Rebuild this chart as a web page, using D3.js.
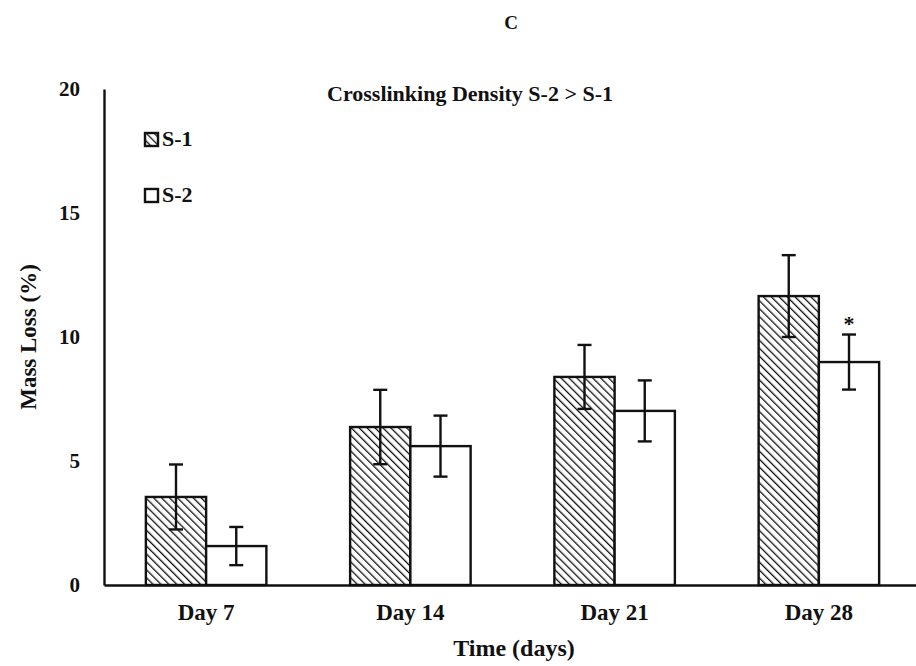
<!DOCTYPE html>
<html>
<head>
<meta charset="utf-8">
<script src="https://cdn.jsdelivr.net/npm/d3@7"></script>
<style>
  html, body { margin: 0; padding: 0; background: #fff; }
  svg { display: block; }
  text { font-family: "Liberation Serif", "Times New Roman", serif; font-weight: bold; fill: #111; }
</style>
</head>
<body>
<div id="chart"></div>
<script>
// Mass loss of the two formulations over time
const days = ["Day 7", "Day 14", "Day 21", "Day 28"];
const seriesNames = ["S-1", "S-2"];
const s1Mean = [3.55, 6.37, 8.39, 11.65];
const s1Err  = [1.31, 1.50, 1.29, 1.65];
const s2Mean = [1.57, 5.60, 7.02, 8.99];
const s2Err  = [0.77, 1.23, 1.23, 1.11];
const yTicks = [0, 5, 10, 15, 20];
const significant = [false, false, false, true]; // S-2 marked with *

const W = 916, H = 666;
const margin = { left: 104, right: -5, top: 89, bottom: 81 };
const ink = "#111";

const svg = d3.select("#chart").append("svg")
  .attr("width", W).attr("height", H);

// diagonal hatching for S-1
const defs = svg.append("defs");
const pat = defs.append("pattern")
  .attr("id", "hatch")
  .attr("patternUnits", "userSpaceOnUse")
  .attr("width", 5.6).attr("height", 5.6)
  .attr("patternTransform", "rotate(-45)");
pat.append("rect").attr("width", 5.6).attr("height", 5.6).attr("fill", "#fff");
pat.append("line")
  .attr("x1", 0).attr("y1", 0).attr("x2", 0).attr("y2", 5.6)
  .attr("stroke", ink).attr("stroke-width", 2.6);

const x = d3.scaleBand()
  .domain(days)
  .range([margin.left, W - margin.right])
  .paddingInner(0.41).paddingOuter(0.205);
const xs = d3.scaleBand().domain(seriesNames).range([0, x.bandwidth()]);
const y = d3.scaleLinear().domain([0, 20]).range([H - margin.bottom, margin.top]);

const data = days.map((d, i) => ({
  day: d,
  vals: [
    { s: "S-1", v: s1Mean[i], e: s1Err[i], star: false },
    { s: "S-2", v: s2Mean[i], e: s2Err[i], star: significant[i] }
  ]
}));

const groups = svg.append("g").selectAll("g")
  .data(data).join("g")
  .attr("transform", d => `translate(${x(d.day)},0)`);

groups.selectAll("rect")
  .data(d => d.vals).join("rect")
  .attr("x", d => xs(d.s))
  .attr("y", d => y(d.v))
  .attr("width", xs.bandwidth())
  .attr("height", d => y(0) - y(d.v))
  .attr("fill", d => d.s === "S-1" ? "url(#hatch)" : "#fff")
  .attr("stroke", ink)
  .attr("stroke-width", 2.4);

// error bars
const eb = groups.selectAll("g.err")
  .data(d => d.vals).join("g").attr("class", "err")
  .attr("transform", d => `translate(${xs(d.s) + xs.bandwidth() / 2},0)`);
eb.append("line")
  .attr("x1", 0).attr("x2", 0)
  .attr("y1", d => y(d.v + d.e)).attr("y2", d => y(d.v - d.e))
  .attr("stroke", ink).attr("stroke-width", 2.4);
eb.append("line")
  .attr("x1", -7).attr("x2", 7)
  .attr("y1", d => y(d.v + d.e)).attr("y2", d => y(d.v + d.e))
  .attr("stroke", ink).attr("stroke-width", 2.4);
eb.append("line")
  .attr("x1", -7).attr("x2", 7)
  .attr("y1", d => y(d.v - d.e)).attr("y2", d => y(d.v - d.e))
  .attr("stroke", ink).attr("stroke-width", 2.4);
eb.filter(d => d.star).append("text")
  .attr("x", 0).attr("y", d => y(d.v + d.e) - 4)
  .attr("text-anchor", "middle")
  .attr("font-size", 22)
  .text("*");

// axes
const yAxis = svg.append("g")
  .attr("transform", `translate(${margin.left},0)`)
  .call(d3.axisLeft(y).tickValues(yTicks).tickSize(0).tickPadding(24));
yAxis.select(".domain").attr("stroke", ink).attr("stroke-width", 2.4);
yAxis.selectAll("text").attr("font-size", 21).attr("font-family", "Liberation Serif").attr("font-weight", "bold").attr("fill", ink);

const xAxis = svg.append("g")
  .attr("transform", `translate(0,${y(0)})`)
  .call(d3.axisBottom(x).tickSize(0).tickPadding(19));
xAxis.select(".domain").attr("stroke", ink).attr("stroke-width", 2.4);
xAxis.selectAll("text").attr("font-size", 23).attr("font-family", "Liberation Serif").attr("font-weight", "bold").attr("fill", ink);

// titles
svg.append("text").attr("x", 511).attr("y", 29).attr("text-anchor", "middle")
  .attr("font-size", 19).text("C");
svg.append("text").attr("x", 470).attr("y", 101).attr("text-anchor", "middle")
  .attr("font-size", 22).text("Crosslinking Density S-2 > S-1");
svg.append("text").attr("x", 514).attr("y", 656).attr("text-anchor", "middle")
  .attr("font-size", 24).text("Time (days)");
svg.append("text")
  .attr("transform", "translate(36,337) rotate(-90)")
  .attr("text-anchor", "middle")
  .attr("font-size", 23).text("Mass Loss (%)");

// legend
const legend = svg.append("g").selectAll("g")
  .data(seriesNames).join("g")
  .attr("transform", (d, i) => `translate(145,${133 + i * 56})`);
legend.append("rect")
  .attr("width", 13).attr("height", 13)
  .attr("fill", d => d === "S-1" ? "url(#hatch)" : "#fff")
  .attr("stroke", ink).attr("stroke-width", 2.4);
legend.append("text")
  .attr("x", 17).attr("y", 13)
  .attr("font-size", 22).text(d => d);
</script>
</body>
</html>
